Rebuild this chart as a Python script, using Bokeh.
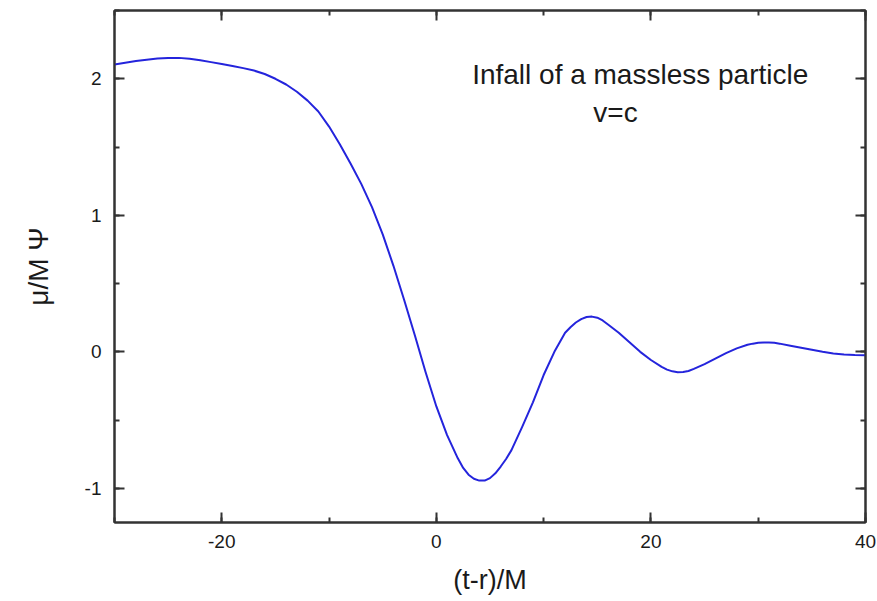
from bokeh.plotting import figure
from bokeh.models import Range1d, LinearAxis, SingleIntervalTicker, Label, PrintfTickFormatter
from bokeh.embed import file_html
from bokeh.resources import INLINE

# Waveform data
t_minus_r = [-30, -29, -28, -27, -26, -25, -24, -23, -22, -21, -20, -19, -18, -17,
             -16, -15, -14, -13, -12, -11, -10, -9, -8, -7, -6, -5, -4, -3, -2,
             -1, 0, 1, 2, 2.5, 3, 3.5, 4, 4.5, 5, 5.5, 6, 6.5, 7, 8, 9, 10, 11,
             12, 12.5, 13, 13.5, 14, 14.5, 15, 15.5, 16, 17, 18, 19, 20, 21, 21.5,
             22, 22.5, 23, 23.5, 24, 25, 26, 27, 28, 29, 29.5, 30, 30.5, 31, 31.5,
             32, 33, 34, 35, 36, 37, 38, 39, 40]
psi = [2.105, 2.118, 2.13, 2.14, 2.148, 2.152, 2.153, 2.147, 2.136, 2.122, 2.108,
       2.094, 2.078, 2.06, 2.035, 2.00, 1.958, 1.905, 1.84, 1.76, 1.65, 1.52, 1.38,
       1.23, 1.06, 0.86, 0.63, 0.38, 0.12, -0.15, -0.40, -0.61, -0.78, -0.85,
       -0.90, -0.93, -0.943, -0.943, -0.925, -0.89, -0.84, -0.785, -0.72, -0.55,
       -0.37, -0.17, 0.0, 0.14, 0.18, 0.215, 0.24, 0.255, 0.258, 0.25, 0.23, 0.20,
       0.14, 0.07, 0.0, -0.06, -0.11, -0.13, -0.143, -0.15, -0.148, -0.14, -0.125,
       -0.09, -0.05, -0.01, 0.025, 0.052, 0.06, 0.066, 0.068, 0.068, 0.066, 0.06,
       0.045, 0.03, 0.015, 0.0, -0.012, -0.02, -0.024, -0.025]

title_line1 = "Infall of a massless particle"
title_line2 = "v=c"
x_label = "(t-r)/M"
y_label = "\u03bc/M \u03a8"

FONT = "Liberation Sans"
AXIS_COLOR = "#333333"
TEXT_COLOR = "#1a1a1a"

p = figure(width=877, height=601, output_backend="svg", toolbar_location=None,
           x_range=Range1d(-30, 40), y_range=Range1d(-1.25, 2.5),
           x_axis_location=None, y_axis_location=None,
           min_border_left=114, min_border_right=12, min_border_top=10,
           min_border_bottom=79)
p.xgrid.visible = False
p.ygrid.visible = False
p.outline_line_color = AXIS_COLOR
p.outline_line_width = 2
p.background_fill_color = "white"
p.border_fill_color = "white"


def style(ax, show_labels, label=None):
    ax.axis_line_color = AXIS_COLOR
    ax.axis_line_width = 2
    ax.major_tick_line_color = AXIS_COLOR
    ax.major_tick_line_width = 2
    ax.minor_tick_line_color = AXIS_COLOR
    ax.minor_tick_line_width = 2
    ax.major_tick_in = 10
    ax.major_tick_out = 0
    ax.minor_tick_in = 5
    ax.minor_tick_out = 0
    ax.formatter = PrintfTickFormatter(format="%d")
    if show_labels:
        ax.major_label_text_font = FONT
        ax.major_label_text_font_size = "19px"
        ax.major_label_text_color = TEXT_COLOR
        ax.major_label_standoff = 12
    else:
        ax.major_label_text_font_size = "0px"
        ax.major_label_text_color = None
        ax.major_label_standoff = 0
    if label:
        ax.axis_label = label
        ax.axis_label_text_font = FONT
        ax.axis_label_text_font_style = "normal"
        ax.axis_label_text_color = TEXT_COLOR


xb = LinearAxis(ticker=SingleIntervalTicker(interval=20, num_minor_ticks=2))
style(xb, True, x_label)
xb.axis_label_text_font_size = "27px"
xb.axis_label_standoff = 14
xt = LinearAxis(ticker=SingleIntervalTicker(interval=20, num_minor_ticks=2))
style(xt, False)
yl = LinearAxis(ticker=SingleIntervalTicker(interval=1, num_minor_ticks=2))
style(yl, True, y_label)
yl.major_label_standoff = 13
yl.axis_label_text_font_size = "28px"
yl.axis_label_standoff = 28
yr = LinearAxis(ticker=SingleIntervalTicker(interval=1, num_minor_ticks=2))
style(yr, False)

p.add_layout(xb, "below")
p.add_layout(xt, "above")
p.add_layout(yl, "left")
p.add_layout(yr, "right")

p.line(t_minus_r, psi, line_color="#2424dc", line_width=2, line_join="round")

p.add_layout(Label(x=19.0, y=2.03, text=title_line1, text_align="center",
                   text_baseline="middle", text_font=FONT,
                   text_font_size="28px", text_color=TEXT_COLOR))
p.add_layout(Label(x=16.7, y=1.75, text=title_line2, text_align="center",
                   text_baseline="middle", text_font=FONT,
                   text_font_size="28px", text_color=TEXT_COLOR))

open("out.html", "w").write(file_html(p, INLINE))
